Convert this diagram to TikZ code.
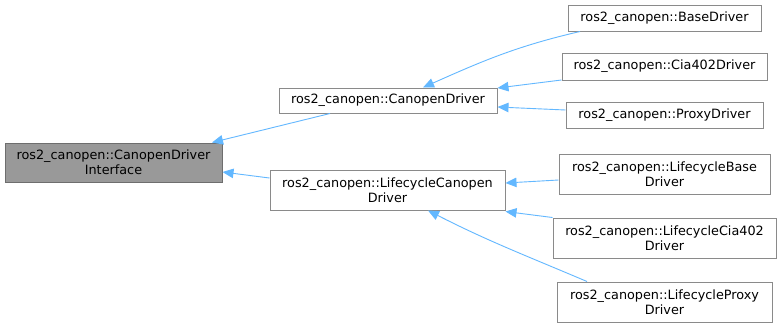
\documentclass[tikz,border=0pt]{standalone}
\usepackage{fontspec}
\setmainfont{DejaVu Sans}
\usetikzlibrary{arrows.meta}
\definecolor{edgeblue}{HTML}{63B8FF}
\definecolor{boxline}{HTML}{8A8A8A}
\definecolor{rootfill}{HTML}{999999}
\begin{document}
\begin{tikzpicture}[x=1pt,y=-1pt,
  cls/.style={draw=boxline, fill=white, line width=1pt, inner sep=0pt,
    align=center, font=\fontsize{12.8}{15}\selectfont, text=black},
  rootcls/.style={cls, fill=rootfill, draw=boxline!80!black},
  inherit/.style={draw=edgeblue, line width=0.9pt,
    -{Triangle[length=11pt,width=9.5pt]}}]

\path[fill=white] (0,0) rectangle (781,327);
\useasboundingbox (0,0) rectangle (781,327);

% base interface
\node[rootcls, minimum width=217pt, minimum height=39pt] (root) at (113.5,162.5)
  {ros2\_canopen::CanopenDriver\\Interface};

% direct subclasses
\node[cls, minimum width=218pt, minimum height=25pt] (cd) at (388,100.5)
  {ros2\_canopen::CanopenDriver};
\node[cls, minimum width=235pt, minimum height=40pt] (lc) at (387.5,190)
  {ros2\_canopen::LifecycleCanopen\\Driver};

% leaves
\node[cls, minimum width=193pt, minimum height=26pt] (base) at (664.5,18)
  {ros2\_canopen::BaseDriver};
\node[cls, minimum width=205pt, minimum height=27pt] (cia) at (664.5,66.5)
  {ros2\_canopen::Cia402Driver};
\node[cls, minimum width=197pt, minimum height=26pt] (proxy) at (664.5,115)
  {ros2\_canopen::ProxyDriver};
\node[cls, minimum width=211pt, minimum height=40pt] (lbase) at (664.5,174)
  {ros2\_canopen::LifecycleBase\\Driver};
\node[cls, minimum width=223pt, minimum height=40pt] (lcia) at (664.5,238)
  {ros2\_canopen::LifecycleCia402\\Driver};
\node[cls, minimum width=215pt, minimum height=40pt] (lproxy) at (664.5,302)
  {ros2\_canopen::LifecycleProxy\\Driver};

% inheritance edges
\draw[inherit] ([xshift=-58pt]cd.south) -- ([xshift=98.5pt]root.north);
\draw[inherit] ([yshift=12pt]lc.west) -- ([yshift=-9.5pt]root.east);

\draw[inherit] ([xshift=-84.5pt]base.south) to[out=193,in=24] ([xshift=35pt]cd.north);
\draw[inherit] ([yshift=-13.5pt]cia.west) -- ([yshift=12.5pt]cd.east);
\draw[inherit] ([yshift=5pt]proxy.west) -- ([yshift=-6.5pt]cd.east);

\draw[inherit] ([yshift=-6pt]lbase.west) -- ([yshift=7pt]lc.east);
\draw[inherit] (lcia.north west) -- ([yshift=-1pt]lc.south east);
\draw[inherit] ([xshift=-77.5pt]lproxy.north) to[out=157,in=333] ([xshift=40.5pt]lc.south);
\end{tikzpicture}
\end{document}
